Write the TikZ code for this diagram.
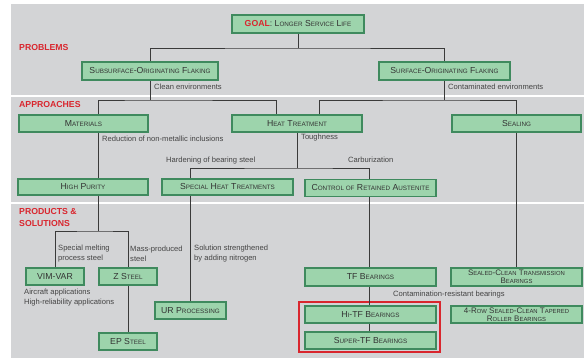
\documentclass[tikz,border=0pt]{standalone}
\usepackage{fontspec}
\setmainfont{Liberation Sans}
\definecolor{panel}{HTML}{D3D4D6}
\definecolor{bfill}{HTML}{9DD4AC}
\definecolor{bdr}{HTML}{3F8A5E}
\definecolor{txt}{HTML}{333333}
\definecolor{lbl}{HTML}{444444}
\definecolor{sred}{HTML}{D9262E}
\definecolor{wire}{HTML}{3A3A3A}
\newcommand\sm[1]{{\fontsize{6.3}{6.5}\selectfont #1}}
\newcommand\smb[1]{{\fontsize{5.9}{6}\selectfont #1}}
\tikzset{
  bx/.style={draw=bdr, fill=bfill, line width=1.1pt, inner sep=0pt, text=txt,
    font=\fontsize{8.7}{9}\selectfont, align=center},
  bx2/.style={bx, font=\fontsize{8}{7.6}\selectfont},
  lab/.style={anchor=west, inner sep=0pt, text=lbl, font=\fontsize{7.6}{10}\selectfont, align=left},
  sec/.style={anchor=west, inner sep=0pt, text=sred, font=\fontsize{8.7}{11.5}\selectfont\bfseries, align=left},
  wr/.style={draw=wire, line width=0.7pt}
}
\begin{document}
\begin{tikzpicture}[x=1pt,y=-1pt]
\useasboundingbox (0,0) rectangle (584,358);
\fill[panel] (11,4) rectangle (584,358);
\fill[white] (11,95) rectangle (584,97);
\fill[white] (11,202) rectangle (584,204);

\node[sec] (s1) at (19,48) {PROBLEMS};
\node[sec] (s2) at (19,105) {APPROACHES};
\node[sec] (s3) at (19,217.5) {PRODUCTS \&\\SOLUTIONS};

% nodes
\node[bx, minimum width=132pt, minimum height=18pt] (goal) at (298,24) {{\color{sred}\bfseries GOAL}: L\sm{ONGER} S\sm{ERVICE} L\sm{IFE}};
\node[bx, minimum width=136pt, minimum height=18pt] (sub) at (150,71) {S\sm{UBSURFACE}-O\sm{RIGINATING} F\sm{LAKING}};
\node[bx, minimum width=131pt, minimum height=18pt] (surf) at (444.5,71) {S\sm{URFACE}-O\sm{RIGINATING} F\sm{LAKING}};
\node[bx, minimum width=129pt, minimum height=17pt] (mat) at (83.5,123.5) {M\sm{ATERIALS}};
\node[bx, minimum width=130pt, minimum height=17pt] (heat) at (297,123.5) {H\sm{EAT} T\sm{REATMENT}};
\node[bx, minimum width=129pt, minimum height=17pt] (seal) at (516.5,123.5) {S\sm{EALING}};
\node[bx, minimum width=130pt, minimum height=16pt] (hp) at (83,187) {H\sm{IGH} P\sm{URITY}};
\node[bx, minimum width=131pt, minimum height=16pt] (sht) at (227.5,187) {S\sm{PECIAL} H\sm{EAT} T\sm{REATMENTS}};
\node[bx, minimum width=131pt, minimum height=17pt] (cra) at (370.5,188) {C\sm{ONTROL OF} R\sm{ETAINED} A\sm{USTENITE}};
\node[bx, minimum width=58pt, minimum height=17pt] (vim) at (55,276.5) {VIM-VAR};
\node[bx, minimum width=58pt, minimum height=17pt] (zst) at (128,276.5) {Z S\sm{TEEL}};
\node[bx, minimum width=58pt, minimum height=17pt] (ep) at (128,341.5) {EP S\sm{TEEL}};
\node[bx, minimum width=71pt, minimum height=17pt] (ur) at (190.5,310.5) {UR P\sm{ROCESSING}};
\node[bx, minimum width=131pt, minimum height=18pt] (tf) at (370.5,277) {TF B\sm{EARINGS}};
\node[bx2, minimum width=131pt, minimum height=18pt] (scb) at (516.5,277) {S\smb{EALED}-C\smb{LEAN} T\smb{RANSMISSION}\\B\smb{EARINGS}};
\node[bx, minimum width=131pt, minimum height=17pt] (hitf) at (370.5,314.5) {H\sm{I}-TF B\sm{EARINGS}};
\node[bx, minimum width=131pt, minimum height=17pt] (stf) at (370.5,340.5) {S\sm{UPER}-TF B\sm{EARINGS}};
\node[bx2, minimum width=131pt, minimum height=17pt] (four) at (516.5,314.5) {4-R\smb{OW} S\smb{EALED}-C\smb{LEAN} T\smb{APERED}\\R\smb{OLLER} B\smb{EARINGS}};
\node[draw=sred, line width=1.1pt, minimum width=141pt, minimum height=50pt, inner sep=0pt] (grp) at (369.5,327) {};

% connectors
\coordinate (b1) at (298,48);
\coordinate (b2) at (150,100);
\coordinate (b3) at (444.5,100);
\coordinate (b4) at (297,168);
\coordinate (b5) at (98,231);
\draw[wr] (goal.south) -- (b1);
\draw[wr] (sub.north) |- (b1) -| (surf.north);
\draw[wr] (sub.south) -- (b2);
\draw[wr] ([xshift=14.5pt]mat.north) |- (b2) -| ([xshift=-21pt]heat.north);
\draw[wr] (surf.south) -- (b3);
\draw[wr] ([xshift=22pt]heat.north) |- (b3) -| ([xshift=-0.5pt]seal.north);
\draw[wr] ([xshift=14.5pt]mat.south) -- ([xshift=15pt]hp.north);
\draw[wr] (heat.south) -- (b4);
\draw[wr] ([xshift=-37.5pt]sht.north) |- (b4) -| ([xshift=-1.5pt]cra.north);
\draw[wr] ([xshift=15pt]hp.south) -- (b5);
\draw[wr] (vim.north) |- (b5) -| (zst.north);
\draw[wr] ([xshift=-37.5pt]sht.south) -- ([xshift=-0.5pt]ur.north);
\draw[wr] ([xshift=-1.5pt]cra.south) -- ([xshift=-1.5pt]tf.north);
\draw[wr] ([xshift=-1.5pt]tf.south) -- ([xshift=-1.5pt]hitf.north);
\draw[wr] ([xshift=-1.5pt]hitf.south) -- ([xshift=-1.5pt]stf.north);
\draw[wr] ([xshift=-0.5pt]seal.south) -- ([xshift=-0.5pt]scb.north);
\draw[wr] (zst.south) -- (ep.north);

% labels
\node[lab] (l1) at (154,87) {Clean environments};
\node[lab] (l2) at (448,87) {Contaminated environments};
\node[lab] (l3) at (102,139) {Reduction of non-metallic inclusions};
\node[lab] (l4) at (301,138) {Toughness};
\node[lab] (l5) at (166,161) {Hardening of bearing steel};
\node[lab] (l6) at (348,160) {Carburization};
\node[lab] (l7) at (58,254) {Special melting\\process steel};
\node[lab] (l8) at (130,254) {Mass-produced\\steel};
\node[lab] (l9) at (194,254) {Solution strengthened\\by adding nitrogen};
\node[lab] (l10) at (24,297.5) {Aircraft applications\\High-reliability applications};
\node[lab] (l11) at (393,295) {Contamination-resistant bearings};
\end{tikzpicture}
\end{document}
